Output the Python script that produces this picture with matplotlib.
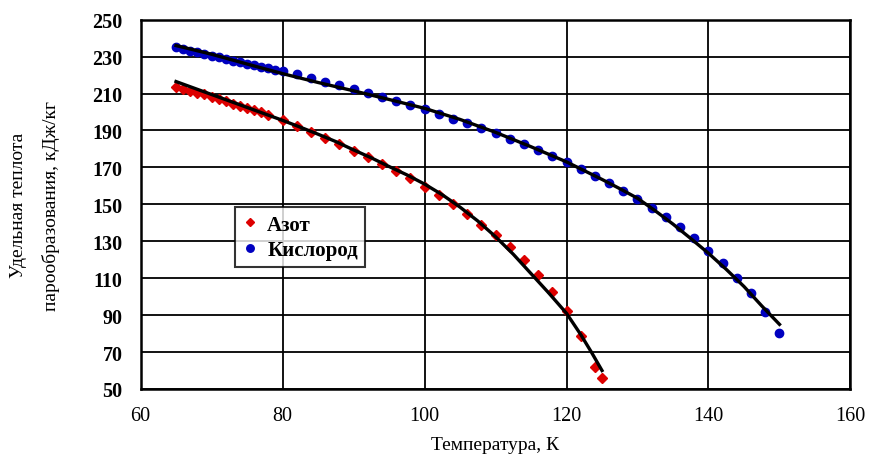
import matplotlib
matplotlib.use("Agg")
import matplotlib.pyplot as plt

# Experimental points: nitrogen (Азот)
t_n = [65, 66, 67, 68, 69, 70, 71, 72, 73, 74, 75, 76, 77, 78,
       80, 82, 84, 86, 88, 90, 92, 94, 96, 98, 100, 102, 104, 106,
       108, 110, 112, 114, 116, 118, 120, 122, 124, 125]
q_n = [213.5, 212.5, 211.5, 210.5, 209.5, 208.3, 207.0, 205.8, 204.6, 203.4,
       202.2, 201.0, 199.8, 198.6,
       195.5, 192.5, 189.3, 186.0, 182.5, 179.0, 175.5, 172.0, 168.0, 164.0,
       159.5, 155.0, 150.0, 145.0, 139.0, 133.5, 127.0, 120.0, 112.0, 102.5,
       92.0, 78.5, 62.0, 56.0]

# Experimental points: oxygen (Кислород)
t_o = [65, 66, 67, 68, 69, 70, 71, 72, 73, 74, 75, 76, 77, 78, 79, 80,
       82, 84, 86, 88, 90, 92, 94, 96, 98, 100, 102, 104, 106, 108, 110,
       112, 114, 116, 118, 120, 122, 124, 126, 128, 130, 132, 134, 136,
       138, 140, 142, 144, 146, 148, 150]
q_o = [235.3, 234.3, 233.3, 232.4, 231.5, 230.6, 229.7, 228.8, 227.9, 227.0,
       226.1, 225.2, 224.4, 223.6, 222.8, 222.0,
       220.5, 218.5, 216.5, 214.5, 212.5, 210.5, 208.3, 206.0, 204.0, 201.5,
       199.0, 196.3, 194.0, 191.3, 188.6, 185.6, 182.6, 179.5, 176.2, 172.8,
       169.0, 165.5, 161.8, 157.2, 152.8, 148.0, 143.2, 137.5, 131.7, 125.0,
       118.3, 110.3, 102.0, 91.5, 80.5]

# Approximating curves (black lines)
t_n_fit = [65, 67.5, 70, 72.5, 75, 77.5, 80, 82.5, 85, 87.5, 90, 92.5, 95,
           97.5, 100, 102.5, 105, 107.5, 110, 112.5, 115, 117.5, 120, 122,
           123.5, 125]
q_n_fit = [216.5, 213.0, 209.5, 206.0, 202.5, 199.0, 195.5, 191.8, 188.0,
           184.0, 179.5, 175.2, 170.5, 166.0, 161.0, 155.2, 148.5, 141.0,
           132.5, 123.0, 112.5, 102.0, 91.0, 79.5, 70.0, 60.0]

t_o_fit = [65, 70, 75, 80, 85, 90, 95, 100, 105, 110, 115, 120, 125, 127.5,
           130, 132.5, 135, 137.5, 140, 142.5, 145, 147.5, 150]
q_o_fit = [236.0, 231.3, 226.0, 220.8, 216.0, 211.5, 206.8, 202.0, 196.0,
           189.0, 181.2, 173.0, 163.5, 158.5, 153.3, 146.5, 139.3, 131.5,
           123.5, 114.8, 105.5, 95.0, 85.0]

x_ticks = [60, 80, 100, 120, 140, 160]
y_ticks = [50, 70, 90, 110, 130, 150, 170, 190, 210, 230, 250]

plt.rcParams["font.family"] = ["Liberation Serif", "DejaVu Serif"]

fig = plt.figure(figsize=(8.69, 4.6), dpi=100)
ax = fig.add_axes([0.1617, 0.1522, 0.817, 0.8028])

ax.plot(t_n, q_n, linestyle="none", marker="D", markersize=5,
        color="#dd0000", label="Азот", zorder=3)
ax.plot(t_o, q_o, linestyle="none", marker="o", markersize=6,
        color="#0000c0", label="Кислород", zorder=3)
ax.plot(t_n_fit, q_n_fit, color="black", linewidth=2.4, zorder=4)
ax.plot(t_o_fit, q_o_fit, color="black", linewidth=2.4, zorder=4)

ax.set_xlim(60, 160)
ax.set_ylim(50, 250)
ax.set_xticks(x_ticks)
ax.set_yticks(y_ticks)
ax.grid(True, color="black", linewidth=1.3)
ax.set_axisbelow(True)
for side in ax.spines.values():
    side.set_linewidth(1.8)
    side.set_color("black")
ax.tick_params(axis="y", length=0, pad=13, labelsize=14.5)
ax.tick_params(axis="x", length=0, pad=12, labelsize=14.5)
for lbl in ax.get_yticklabels():
    lbl.set_fontweight("bold")

ax.set_xlabel("Температура, К", fontsize=14, labelpad=8)
fig.text(0.040, 0.553, "Удельная теплота\nпарообразования, кДж/кг",
         rotation=90, ha="center", va="center", fontsize=14,
         linespacing=2.1, multialignment="center")

leg = ax.legend(loc="upper left", bbox_to_anchor=(0.133, 0.492),
                fontsize=15, frameon=True, fancybox=False, shadow=False,
                handlelength=0.7, handletextpad=0.5, borderpad=0.35,
                labelspacing=0.25, borderaxespad=0, markerscale=0.9)
leg.get_frame().set_edgecolor("black")
leg.get_frame().set_linewidth(1.5)
for txt in leg.get_texts():
    txt.set_fontweight("bold")

fig.savefig("out.png", dpi=100)
